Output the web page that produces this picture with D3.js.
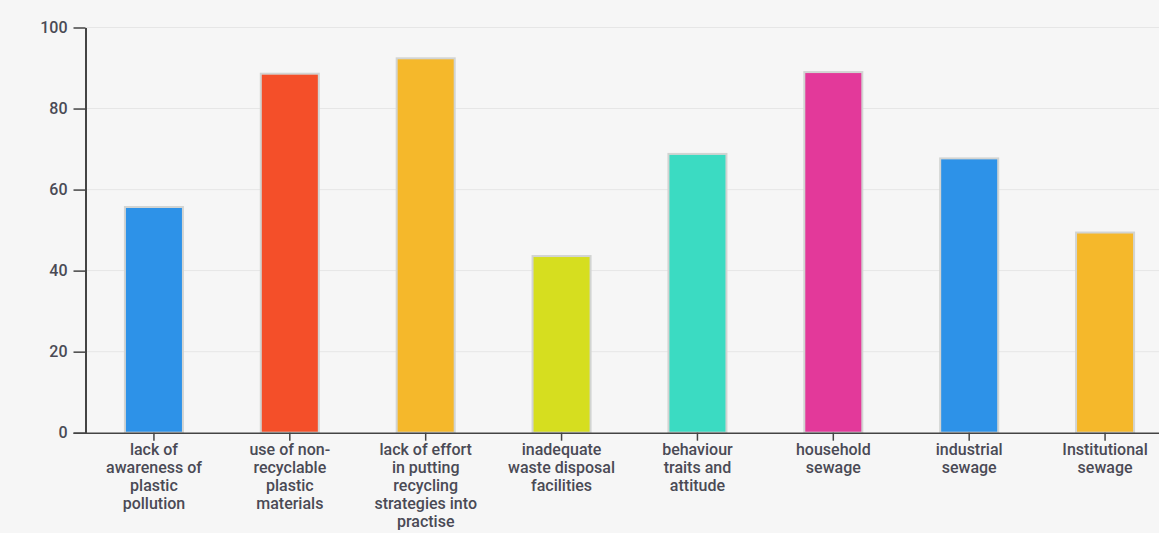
<!DOCTYPE html>
<html>
<head>
<meta charset="utf-8">
<script src="https://cdn.jsdelivr.net/npm/d3@7"></script>
<style>
  html, body { margin: 0; padding: 0; background: #f6f6f6; }
  svg { display: block; font-family: Roboto, "Noto Sans", sans-serif; }
</style>
</head>
<body>
<svg id="chart" width="1159" height="533"></svg>
<script>
const categories = [
  "lack of awareness of plastic pollution",
  "use of non-recyclable plastic materials",
  "lack of effort in putting recycling strategies into practise",
  "inadequate waste disposal facilities",
  "behaviour traits and attitude",
  "household sewage",
  "industrial sewage",
  "Institutional sewage"
];
const labelLines = [
  ["lack of", "awareness of", "plastic", "pollution"],
  ["use of non-", "recyclable", "plastic", "materials"],
  ["lack of effort", "in putting", "recycling", "strategies into", "practise"],
  ["inadequate", "waste disposal", "facilities"],
  ["behaviour", "traits and", "attitude"],
  ["household", "sewage"],
  ["industrial", "sewage"],
  ["Institutional", "sewage"]
];
const values = [55.7, 88.6, 92.4, 43.6, 68.8, 89.0, 67.7, 49.4];
const colors = ["#2d92e8", "#f44f29", "#f5b82b", "#d6de1f", "#3bdbc2", "#e3399a", "#2d92e8", "#f5b82b"];
const yTicks = [0, 20, 40, 60, 80, 100];

const svg = d3.select("#chart");
const W = 1159, H = 533;
const mLeft = 85.5, mTop = 27.5, mBottom = 432.7;

svg.append("rect").attr("width", W).attr("height", H).attr("fill", "#f6f6f6");

const x = d3.scaleBand()
  .domain(categories)
  .range([86, 1173])
  .paddingInner(0.573)
  .paddingOuter(0.2865);

const y = d3.scaleLinear().domain([0, 100]).range([mBottom, mTop]);

// gridlines
svg.append("g")
  .selectAll("line")
  .data(yTicks.filter(d => d > 0))
  .join("line")
  .attr("x1", mLeft).attr("x2", W)
  .attr("y1", d => y(d)).attr("y2", d => y(d))
  .attr("stroke", "#e6e6e6").attr("stroke-width", 1);

// bars
svg.append("g")
  .selectAll("rect")
  .data(values)
  .join("rect")
  .attr("x", (d, i) => x(categories[i]))
  .attr("y", d => y(d))
  .attr("width", x.bandwidth())
  .attr("height", d => y(0) - y(d))
  .attr("fill", (d, i) => colors[i])
  .attr("stroke", "#d2d4d2")
  .attr("stroke-width", 2);

// y axis
const yAxis = svg.append("g")
  .attr("transform", `translate(${mLeft},0)`)
  .call(d3.axisLeft(y).tickValues(yTicks).tickSize(12).tickPadding(6).tickSizeOuter(0));
yAxis.select(".domain").attr("stroke", "#444").attr("stroke-width", 2);
yAxis.selectAll(".tick line").attr("stroke", "#444").attr("stroke-width", 1.5);
yAxis.selectAll(".tick text")
  .attr("fill", "#4a4a55")
  .style("font-size", "16px")
  .style("font-weight", "500")
  .style("font-family", "Roboto, sans-serif");

// x axis
const xAxis = svg.append("g")
  .attr("transform", `translate(0,${mBottom})`)
  .call(d3.axisBottom(x).tickSize(8).tickSizeOuter(0).tickFormat(""));
xAxis.select(".domain").attr("d", `M${mLeft - 12},0.5H${W}`).attr("stroke", "#444").attr("stroke-width", 1.5);
xAxis.selectAll(".tick line").attr("stroke", "#444").attr("stroke-width", 1.5);
xAxis.selectAll(".tick text").remove();

xAxis.selectAll(".tick").each(function(d) {
  const i = categories.indexOf(d);
  const t = d3.select(this).append("text")
    .attr("text-anchor", "middle")
    .attr("fill", "#4a4a55")
    .style("font-size", "16px")
    .style("font-weight", "500")
    .style("font-family", "Roboto, sans-serif");
  labelLines[i].forEach((ln, k) => {
    t.append("tspan").attr("x", 0).attr("y", 22 + k * 18).text(ln);
  });
});
</script>
</body>
</html>
